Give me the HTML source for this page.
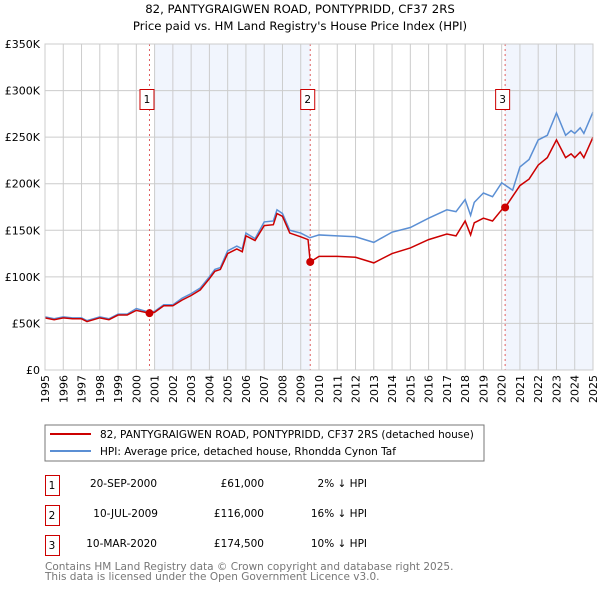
<!DOCTYPE html>
<html><head><meta charset="utf-8"><style>
body{margin:0;background:#fff;font-family:"DejaVu Sans","Liberation Sans",sans-serif;}
svg text{font-family:"DejaVu Sans","Liberation Sans",sans-serif;}
</style></head><body>
<svg id="chart" width="600" height="590" xmlns="http://www.w3.org/2000/svg">
<text x="300" y="13" text-anchor="middle" font-size="11.7">82, PANTYGRAIGWEN ROAD, PONTYPRIDD, CF37 2RS</text>
<text x="300" y="30" text-anchor="middle" font-size="11.7">Price paid vs. HM Land Registry's House Price Index (HPI)</text>
<g id="plot"></g>
<rect x="45" y="425" width="439" height="36" fill="#fff" stroke="#777"/>
<line x1="50" y1="434" x2="91" y2="434" stroke="#cc0000" stroke-width="2"/>
<text x="100" y="438" font-size="10.5">82, PANTYGRAIGWEN ROAD, PONTYPRIDD, CF37 2RS (detached house)</text>
<line x1="50" y1="451" x2="91" y2="451" stroke="#5b8fd4" stroke-width="2"/>
<text x="100" y="455" font-size="10.5">HPI: Average price, detached house, Rhondda Cynon Taf</text>
<g font-size="10.5">
<rect x="45.5" y="475.5" width="14" height="20" fill="#fff" stroke="#cc0000"/><text x="52" y="489" text-anchor="middle">1</text>
<text x="157" y="487" text-anchor="end">20-SEP-2000</text><text x="264" y="487" text-anchor="end">£61,000</text><text x="367" y="487" text-anchor="end">2% ↓ HPI</text>
<rect x="45.5" y="505.5" width="14" height="20" fill="#fff" stroke="#cc0000"/><text x="52" y="519" text-anchor="middle">2</text>
<text x="158" y="517" text-anchor="end">10-JUL-2009</text><text x="264" y="517" text-anchor="end">£116,000</text><text x="367" y="517" text-anchor="end">16% ↓ HPI</text>
<rect x="45.5" y="535.5" width="14" height="20" fill="#fff" stroke="#cc0000"/><text x="52" y="549" text-anchor="middle">3</text>
<text x="157" y="547" text-anchor="end">10-MAR-2020</text><text x="264" y="547" text-anchor="end">£174,500</text><text x="367" y="547" text-anchor="end">10% ↓ HPI</text>
</g>
<text x="45" y="570" font-size="10.5" fill="#777">Contains HM Land Registry data © Crown copyright and database right 2025.</text>
<text x="45" y="580" font-size="10.5" fill="#777">This data is licensed under the Open Government Licence v3.0.</text>
</svg>
<script>
const yTicks=[0,50,100,150,200,250,300,350];
const yTickLabels=["£0","£50K","£100K","£150K","£200K","£250K","£300K","£350K"];
const xYears=[1995,1996,1997,1998,1999,2000,2001,2002,2003,2004,2005,2006,2007,2008,2009,2010,2011,2012,2013,2014,2015,2016,2017,2018,2019,2020,2021,2022,2023,2024,2025];
const hpiT=[1995,1995.5,1996,1996.5,1997,1997.3,1998,1998.5,1999,1999.5,2000,2000.7,2001,2001.5,2002,2002.5,2003,2003.5,2004,2004.3,2004.6,2005,2005.5,2005.8,2006,2006.5,2007,2007.5,2007.7,2008,2008.4,2009,2009.5,2010,2011,2012,2013,2014,2015,2016,2017,2017.5,2018,2018.3,2018.5,2019,2019.5,2020,2020.3,2020.6,2021,2021.5,2022,2022.5,2023,2023.5,2023.8,2024,2024.3,2024.5,2025];
const hpiV=[57,55,57,56,56,53,57,55,60,60,66,62,63,70,70,77,82,88,100,108,110,128,133,130,147,141,159,160,172,168,150,147,142,145,144,143,137,148,153,163,172,170,183,166,180,190,186,201,197,193,218,226,247,252,276,252,257,254,260,254,277];
const priceT=[1995,1995.5,1996,1996.5,1997,1997.3,1998,1998.5,1999,1999.5,2000,2000.72,2001,2001.5,2002,2002.5,2003,2003.5,2004,2004.3,2004.6,2005,2005.5,2005.8,2006,2006.5,2007,2007.5,2007.7,2008,2008.4,2009,2009.4,2009.52,2010,2011,2012,2013,2014,2015,2016,2017,2017.5,2018,2018.3,2018.5,2019,2019.5,2020,2020.19,2021,2021.5,2022,2022.5,2023,2023.5,2023.8,2024,2024.3,2024.5,2025];
const priceV=[56,54,56,55,55,52,56,54,59,59,64,61,62,69,69,75,80,86,98,106,108,125,130,127,144,139,155,156,168,165,147,143,140,116,122,122,121,115,125,131,140,146,144,160,145,158,163,160,172,174.5,198,205,220,228,247,228,232,228,234,228,250];
const saleT=[2000.72,2009.52,2020.19];
const saleV=[61,116,174.5];
const saleLabels=["1","2","3"];
const NS="http://www.w3.org/2000/svg";
const L=45,R=593,T=44,B=370;
const xs=t=>L+(t-1995)/30*(R-L);
const ys=v=>B-v/350*(B-T);
const g=document.getElementById('plot');
function mk(tag,a,parent){const e=document.createElementNS(NS,tag);for(const k in a)e.setAttribute(k,a[k]);(parent||g).appendChild(e);return e;}
let s=mk('rect',{x:xs(2001),y:T,width:xs(saleT[1])-xs(2001),height:B-T,fill:'#eef3fc',opacity:0.8});


s=mk('rect',{x:xs(saleT[2]),y:T,width:R-xs(saleT[2]),height:B-T,fill:'#eef3fc',opacity:0.8});


xYears.forEach(y=>{const l=mk('line',{x1:xs(y),x2:xs(y),y1:T,y2:B,stroke:'#ccc','stroke-width':1});


const t=mk('text',{x:0,y:0,'font-size':11,'text-anchor':'end',transform:`translate(${xs(y)+4},${B+5}) rotate(-90)`});t.textContent=y;

});
yTicks.forEach((v,i)=>{const l=mk('line',{x1:L,x2:R,y1:ys(v),y2:ys(v),stroke:'#ccc','stroke-width':1});


const t=mk('text',{x:40,y:ys(v)+4,'font-size':11,'text-anchor':'end'});t.textContent=yTickLabels[i];

});
saleT.forEach((t,i)=>{const l=mk('line',{x1:xs(t),x2:xs(t),y1:T,y2:B,stroke:'#e06060','stroke-dasharray':'2,3','stroke-width':1});


const b=mk('rect',{x:xs(t)-9.5,y:89.5,width:14,height:20,fill:'#fff',stroke:'#cc0000'});


const tx=mk('text',{x:xs(t)-2.5,y:103,'font-size':10.5,'text-anchor':'middle'});tx.textContent=saleLabels[i];

});
const h=mk('polyline',{points:hpiT.map((t,i)=>xs(t)+','+ys(hpiV[i])).join(' '),fill:'none',stroke:'#5b8fd4','stroke-width':1.5});


const p=mk('polyline',{points:priceT.map((t,i)=>xs(t)+','+ys(priceV[i])).join(' '),fill:'none',stroke:'#cc0000','stroke-width':1.5});


saleT.forEach((t,i)=>{const c=mk('circle',{cx:xs(t),cy:ys(saleV[i]),r:4,fill:'#cc0000'});

});
const f=mk('rect',{x:L,y:T,width:R-L,height:B-T,fill:'none',stroke:'#ccc'});


</script>
</body></html>
